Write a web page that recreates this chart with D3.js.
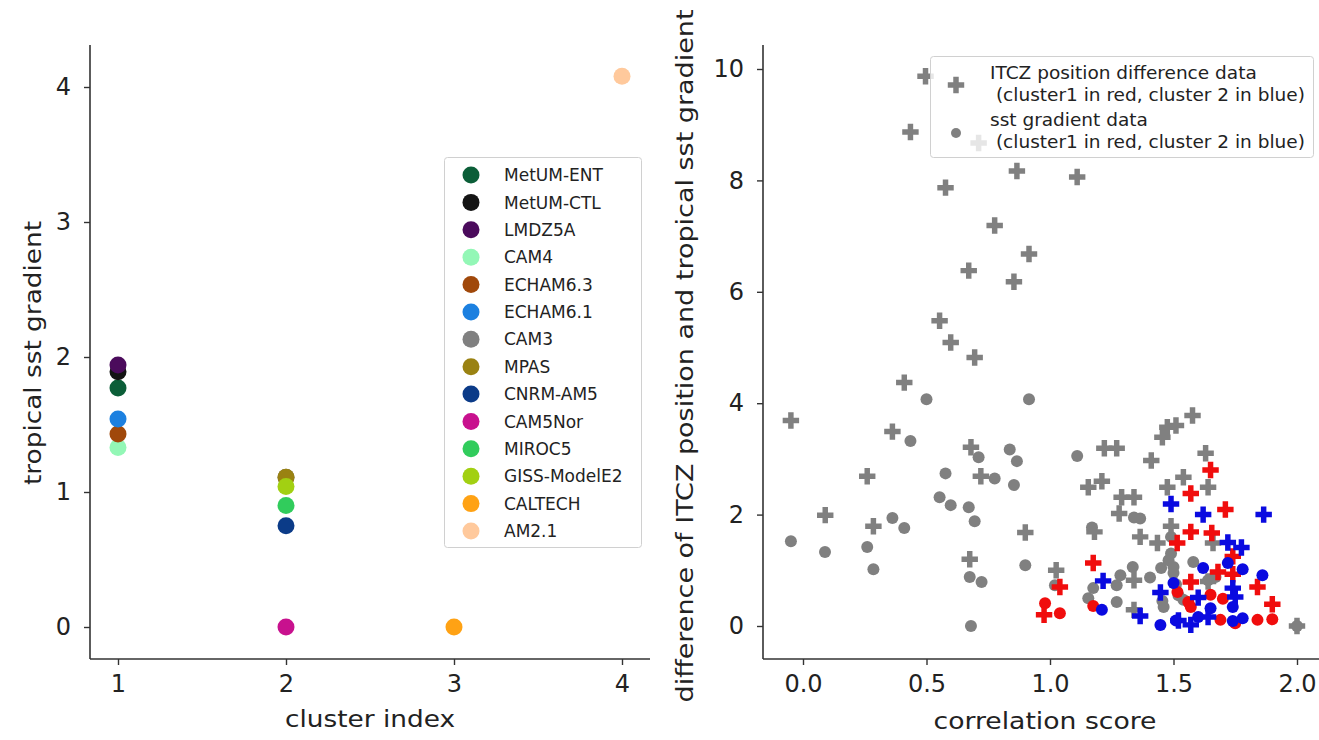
<!DOCTYPE html>
<html>
<head>
<meta charset="utf-8">
<script src="https://cdn.jsdelivr.net/npm/d3@7"></script>
<style>
  html, body { margin: 0; padding: 0; background: #fff; }
  svg { display: block; }
  text { font-family: "DejaVu Sans", sans-serif; fill: #222; }
</style>
</head>
<body>
<svg id="chart" width="1319" height="740"></svg>
<script>
// ---------- Left panel data ----------
const models = ["MetUM-ENT","MetUM-CTL","LMDZ5A","CAM4","ECHAM6.3","ECHAM6.1","CAM3","MPAS","CNRM-AM5","CAM5Nor","MIROC5","GISS-ModelE2","CALTECH","AM2.1"];
const modelColors = ["#0b5e38","#141414","#4b0b5c","#93f7b6","#a0480a","#1c80e0","#808080","#9a8212","#0b3b88","#c8118e","#31cc5c","#a2d012","#ffa214","#ffc99c"];
const clusterIndex = [1,1,1,1,1,1,2,2,2,2,2,2,3,4];
const sstGradient = [1.77,1.89,1.94,1.33,1.43,1.54,1.11,1.11,0.75,0.0,0.90,1.04,0.0,4.08];
const leftXTicks = [1,2,3,4];
const leftYTicks = [0,1,2,3,4];

// ---------- Right panel data: [correlation score, value] ----------
const itczGray = [[-0.049,3.69],[0.09,1.99],[0.26,2.69],[0.285,1.79],[0.362,3.49],[0.41,4.37],[0.435,8.87],[0.496,9.87],[0.553,5.48],[0.577,7.87],[0.598,5.09],[0.671,6.38],[0.68,3.21],[0.675,1.20],[0.695,4.82],[0.711,8.67],[0.72,2.69],[0.776,7.19],[0.854,6.18],[0.866,8.17],[0.90,1.68],[0.915,6.68],[1.025,1.0],[1.11,8.06],[1.155,2.49],[1.18,1.69],[1.21,2.6],[1.22,3.19],[1.27,3.19],[1.28,2.02],[1.29,2.31],[1.34,2.31],[1.34,0.82],[1.34,0.29],[1.365,1.6],[1.41,2.97],[1.435,1.49],[1.455,3.39],[1.475,3.57],[1.475,2.49],[1.49,1.79],[1.51,3.6],[1.54,2.67],[1.577,3.78],[1.63,3.1],[1.64,2.49],[1.66,1.49],[1.64,0.8],[2.0,0.0]];
const itczRed = [[0.976,0.2],[1.04,0.70],[1.175,1.13],[1.515,1.49],[1.57,2.38],[1.57,1.69],[1.57,0.79],[1.65,2.8],[1.655,1.67],[1.68,0.97],[1.71,2.09],[1.74,1.25],[1.74,0.93],[1.84,0.70],[1.9,0.39]];
const itczBlue = [[1.215,0.81],[1.365,0.18],[1.447,0.60],[1.49,2.19],[1.52,0.1],[1.57,0.02],[1.60,0.51],[1.62,2.0],[1.64,0.16],[1.72,1.5],[1.74,0.68],[1.75,0.52],[1.775,1.41],[1.865,2.0]];
const sstGray = [[-0.049,1.52],[0.089,1.33],[0.26,1.42],[0.285,1.02],[0.362,1.94],[0.41,1.76],[0.435,3.32],[0.50,4.07],[0.553,2.31],[0.577,2.74],[0.598,2.17],[0.671,2.13],[0.675,0.88],[0.68,0.0],[0.695,1.88],[0.711,3.03],[0.723,0.79],[0.776,2.65],[0.837,3.17],[0.854,2.53],[0.866,2.96],[0.90,1.09],[0.915,4.07],[1.02,0.73],[1.11,3.05],[1.155,0.5],[1.17,1.77],[1.175,0.68],[1.27,0.73],[1.27,0.43],[1.285,0.91],[1.335,1.06],[1.34,1.95],[1.365,1.93],[1.405,0.87],[1.45,1.04],[1.455,0.45],[1.46,0.34],[1.48,1.18],[1.5,1.06],[1.49,1.3],[1.5,0.95],[1.51,0.75],[1.52,0.55],[1.54,0.47],[1.58,1.15],[1.64,0.82],[1.67,0.88],[1.49,1.6],[2.0,0.0]];
const sstRed = [[0.98,0.41],[1.04,0.23],[1.175,0.36],[1.516,0.61],[1.56,0.43],[1.57,0.34],[1.65,0.56],[1.70,0.49],[1.69,0.11],[1.75,0.05],[1.84,0.11],[1.9,0.12]];
const sstBlue = [[1.21,0.29],[1.447,0.02],[1.5,0.77],[1.51,0.1],[1.6,0.16],[1.62,1.04],[1.65,0.32],[1.72,1.13],[1.74,0.34],[1.74,0.09],[1.78,0.14],[1.78,1.02],[1.86,0.91]];
const rightXTicks = [0.0,0.5,1.0,1.5,2.0];
const rightYTicks = [0,2,4,6,8,10];
const rightLegend = [
  ["ITCZ position difference data", " (cluster1 in red, cluster 2 in blue)"],
  ["sst gradient data", " (cluster1 in red, cluster 2 in blue)"]
];

const svg = d3.select("#chart");
const AX = "#333";

function spine(g, x1, y1, x2, y2) {
  g.append("line").attr("x1", x1).attr("y1", y1).attr("x2", x2).attr("y2", y2)
    .attr("stroke", AX).attr("stroke-width", 1.6);
}
function styleAxis(sel) {
  sel.select(".domain").remove();
  sel.selectAll(".tick line").attr("stroke", AX).attr("stroke-width", 1.4);
  sel.selectAll(".tick text").attr("font-family", "DejaVu Sans, sans-serif")
    .attr("font-size", 24).attr("fill", "#222");
}

// ================= LEFT PANEL =================
const xL = d3.scaleLinear().domain([1, 4]).range([118, 622]);
const yL = d3.scaleLinear().domain([0, 4]).range([627, 87]);
const gL = svg.append("g");

spine(gL, 90, 45, 90, 659);
spine(gL, 90, 659, 650, 659);

gL.append("g").attr("transform", "translate(90,0)")
  .call(d3.axisLeft(yL).tickValues(leftYTicks).tickFormat(d3.format("d")).tickSize(6).tickPadding(13))
  .call(styleAxis);
gL.append("g").attr("transform", "translate(0,659)")
  .call(d3.axisBottom(xL).tickValues(leftXTicks).tickFormat(d3.format("d")).tickSize(6).tickPadding(10))
  .call(styleAxis);

gL.selectAll("circle.m").data(models).join("circle")
  .attr("class", "m")
  .attr("cx", (d, i) => xL(clusterIndex[i]))
  .attr("cy", (d, i) => yL(sstGradient[i]))
  .attr("r", 8.5)
  .attr("fill", (d, i) => modelColors[i]);

gL.append("text").attr("x", 370).attr("y", 727).attr("text-anchor", "middle")
  .attr("font-size", 23).attr("textLength", 170).attr("lengthAdjust", "spacingAndGlyphs")
  .text("cluster index");
gL.append("text").attr("transform", "translate(41,353) rotate(-90)").attr("text-anchor", "middle")
  .attr("font-size", 23).attr("textLength", 264).attr("lengthAdjust", "spacingAndGlyphs")
  .text("tropical sst gradient");

// Left legend
const legL = gL.append("g");
legL.append("rect").attr("x", 444.5).attr("y", 157.5).attr("width", 197).attr("height", 390)
  .attr("rx", 3).attr("fill", "#fff").attr("fill-opacity", 0.8).attr("stroke", "#d0d0d0");
const legY = d3.scaleLinear().domain([0, models.length - 1]).range([175, 531]);
models.forEach((m, i) => {
  legL.append("circle").attr("cx", 471).attr("cy", legY(i)).attr("r", 8.5).attr("fill", modelColors[i]);
  legL.append("text").attr("x", 504).attr("y", legY(i)).attr("dy", "0.36em")
    .attr("font-size", 17).text(m);
});

// ================= RIGHT PANEL =================
const xR = d3.scaleLinear().domain([0, 2]).range([803, 1297]);
const yR = d3.scaleLinear().domain([0, 10]).range([626, 69]);
const gR = svg.append("g");

spine(gR, 763, 45, 763, 659);
spine(gR, 763, 659, 1319, 659);

gR.append("g").attr("transform", "translate(763,0)")
  .call(d3.axisLeft(yR).tickValues(rightYTicks).tickFormat(d3.format("d")).tickSize(6).tickPadding(13))
  .call(styleAxis);
gR.append("g").attr("transform", "translate(0,659)")
  .call(d3.axisBottom(xR).tickValues(rightXTicks).tickFormat(d3.format(".1f")).tickSize(6).tickPadding(10))
  .call(styleAxis);

const cross = d3.symbol().type(d3.symbolCross).size(150);
function plusses(data, color) {
  gR.append("g").selectAll("path").data(data).join("path")
    .attr("d", cross)
    .attr("transform", d => `translate(${xR(d[0])},${yR(d[1])})`)
    .attr("fill", color);
}
function dots(data, color) {
  gR.append("g").selectAll("circle").data(data).join("circle")
    .attr("cx", d => xR(d[0])).attr("cy", d => yR(d[1])).attr("r", 6)
    .attr("fill", color);
}
const GRAY = "#808080", RED = "#f00d0d", BLUE = "#0a0ae0";
plusses(itczGray, GRAY);
dots(sstGray, GRAY);
plusses(itczRed, RED);
dots(sstRed, RED);
plusses(itczBlue, BLUE);
dots(sstBlue, BLUE);

gR.append("text").attr("x", 1045).attr("y", 729).attr("text-anchor", "middle")
  .attr("font-size", 23).attr("textLength", 223).attr("lengthAdjust", "spacingAndGlyphs")
  .text("correlation score");
gR.append("text").attr("transform", "translate(693,356) rotate(-90)").attr("text-anchor", "middle")
  .attr("font-size", 23).attr("textLength", 693).attr("lengthAdjust", "spacingAndGlyphs")
  .text("difference of ITCZ position and tropical sst gradient");

// Right legend
const legR = gR.append("g");
legR.append("rect").attr("x", 930.5).attr("y", 56.5).attr("width", 383).attr("height", 101)
  .attr("rx", 3).attr("fill", "#fff").attr("fill-opacity", 0.8).attr("stroke", "#d0d0d0");
legR.append("path").attr("d", cross).attr("transform", "translate(956,85)").attr("fill", GRAY);
legR.append("circle").attr("cx", 956).attr("cy", 133).attr("r", 5).attr("fill", GRAY);
const lineY = [[72, 94], [119, 141]];
rightLegend.forEach((lines, i) => {
  legR.append("text").attr("x", 990).attr("y", lineY[i][0]).attr("dy", "0.36em")
    .attr("font-size", 18.5).text(lines[0]);
  legR.append("text").attr("x", 990).attr("y", lineY[i][1]).attr("dy", "0.36em")
    .attr("font-size", 18.5).attr("xml:space", "preserve").style("white-space", "pre").text(lines[1]);
});
</script>
</body>
</html>
